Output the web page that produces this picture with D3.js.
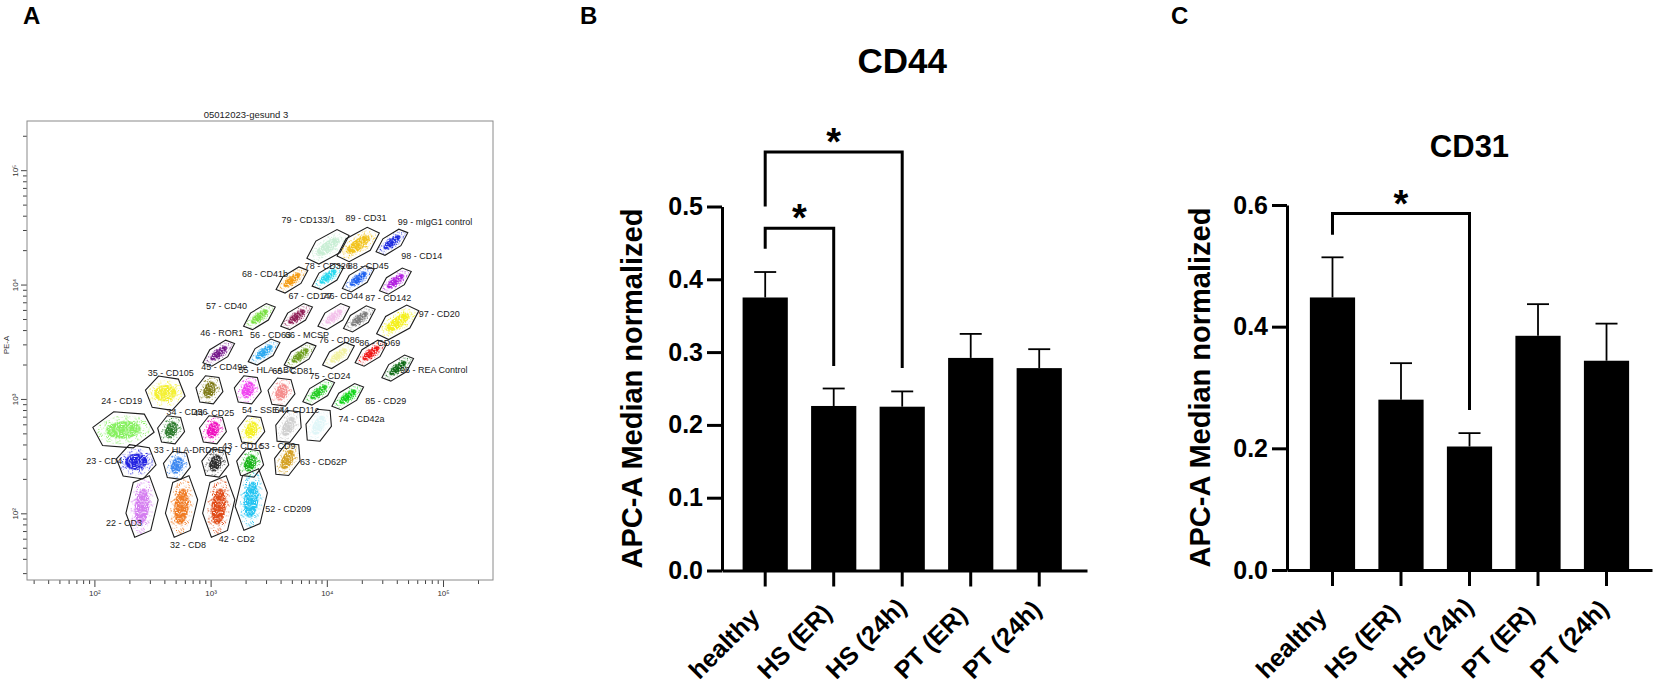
<!DOCTYPE html>
<html>
<head>
<meta charset="utf-8">
<script src="https://cdn.jsdelivr.net/npm/d3@7"></script>
<style>
  body { margin: 0; background: #fff; }
  text { font-family: "Liberation Sans", Arial, sans-serif; }
</style>
</head>
<body>
<svg id="fig" width="1654" height="690"></svg>
<script>
// ---------- panel A : gated bead populations (log10 positions) ----------
const gateNames = ['79 - CD133/1','89 - CD31','99 - mIgG1 control','98 - CD14','68 - CD41b','78 - CD326','88 - CD45',
  '67 - CD146','77 - CD44','87 - CD142','97 - CD20','57 - CD40','46 - ROR1','56 - CD63','66 - MCSP','76 - CD86',
  '86 - CD69','96 - REA Control','35 - CD105','45 - CD49e','55 - HLA-ABC','65 - CD81','75 - CD24','85 - CD29',
  '24 - CD19','34 - CD56','44 - CD25','54 - SSEA4','64 - CD11c','74 - CD42a','23 - CD4','33 - HLA-DRDPDQ',
  '43 - CD1c','53 - CD9','63 - CD62P','22 - CD3','32 - CD8','42 - CD2','52 - CD209'];
const gateLogX = [4.01,4.27,4.56,4.59,3.70,4.01,4.27,3.74,4.06,4.28,4.61,3.42,3.07,3.46,3.77,4.10,4.38,4.61,
  2.61,2.99,3.32,3.61,3.93,4.18,2.25,2.66,3.02,3.35,3.67,3.93,2.36,2.71,3.04,3.34,3.66,2.41,2.75,3.07,3.35];
const gateLogY = [4.33,4.35,4.37,4.03,4.04,4.07,4.05,3.72,3.72,3.70,3.67,3.72,3.40,3.41,3.38,3.38,3.40,3.27,
  3.05,3.08,3.08,3.06,3.06,3.02,2.73,2.73,2.73,2.73,2.76,2.77,2.45,2.42,2.44,2.44,2.47,2.06,2.06,2.06,2.12];
const labelLogX = [3.61,4.16,4.61,4.64,3.27,3.81,4.18,3.67,3.96,4.33,4.79,2.96,2.91,3.34,3.64,3.93,4.28,4.63,
  2.46,2.92,3.24,3.53,3.85,4.33,2.06,2.62,2.85,3.27,3.55,4.10,1.93,2.51,3.10,3.42,3.77,2.10,2.65,3.07,3.47];
const labelLogY = [4.54,4.56,4.52,4.22,4.07,4.14,4.14,3.87,3.87,3.86,3.72,3.79,3.55,3.53,3.53,3.49,3.46,3.23,
  3.20,3.25,3.23,3.22,3.17,2.96,2.96,2.86,2.85,2.88,2.88,2.80,2.43,2.53,2.56,2.56,2.42,1.89,1.70,1.75,2.01];
const gateColors = ['#c8eed4','#f2c31c','#1f2be0','#b11fe0','#f59a10','#22d8ee','#1a5ff0','#8f1f55','#f3c0ea',
  '#7a7a7a','#f4f01a','#78e040','#74198a','#2aa8f0','#6c9e1a','#f2f2a0','#f01414','#0e6a14','#f4f030','#7e7a18',
  '#f040f0','#f48a8a','#22cc22','#10d418','#86f060','#2a7a2a','#f010c0','#f4f020','#cfcfcf','#e0f6f8','#2424e0',
  '#3a86f0','#2c2c2c','#14b414','#d4a020','#d47cf0','#f07a24','#e04a14','#22c4f2'];
const gateShapes = ['diagL','diagL','diag','diag','diag','diag','diag','diag','diag','diag','diagL','diag','diag',
  'diag','diag','diag','diag','diag','box','round','round','round','diag','diag','wide','round','round','round',
  'lean','lean','box','round','round','round','lean','tall','tall','tall','tall'];

// ---------- panels B / C : bar charts ----------
const groups = ['healthy', 'HS (ER)', 'HS (24h)', 'PT (ER)', 'PT (24h)'];
const cd44Mean = [0.375, 0.226, 0.225, 0.292, 0.278];
const cd44Err  = [0.035, 0.024, 0.021, 0.033, 0.026];
const cd31Mean = [0.448, 0.280, 0.203, 0.385, 0.344];
const cd31Err  = [0.066, 0.060, 0.022, 0.052, 0.061];
const cd44Ticks = [0, 0.1, 0.2, 0.3, 0.4, 0.5];
const cd31Ticks = [0, 0.2, 0.4, 0.6];
const cd44Sig = [
  {from: 'healthy', to: 'HS (ER)',  top: 0.470, leftEnd: 0.442, rightEnd: 0.281, label: '*'},
  {from: 'healthy', to: 'HS (24h)', top: 0.575, leftEnd: 0.500, rightEnd: 0.278, label: '*'}
];
const cd31Sig = [
  {from: 'healthy', to: 'HS (24h)', top: 0.586, leftEnd: 0.551, rightEnd: 0.263, label: '*'}
];

const svg = d3.select('#fig');
svg.append('rect').attr('width', 1654).attr('height', 690).attr('fill', '#fff');

// speckle filters so the gate clouds look like dot clouds
const defs = svg.append('defs');
function speckle(id, cut){
  const f = defs.append('filter').attr('id', id).attr('x', '-10%').attr('y', '-10%').attr('width', '120%').attr('height', '120%');
  f.append('feTurbulence').attr('type', 'fractalNoise').attr('baseFrequency', 0.9).attr('numOctaves', 1).attr('seed', 4).attr('result', 'n');
  f.append('feColorMatrix').attr('in', 'n').attr('type', 'matrix')
    .attr('values', `0 0 0 0 0  0 0 0 0 0  0 0 0 0 0  9 0 0 0 ${cut}`).attr('result', 'm');
  f.append('feComposite').attr('in', 'SourceGraphic').attr('in2', 'm').attr('operator', 'in');
}
speckle('sparse', -5.0);
speckle('dense', -3.2);

// panel letters
[['A', 23], ['B', 580], ['C', 1171]].forEach(([t, x]) => {
  svg.append('text').attr('x', x).attr('y', 24).text(t)
    .style('font-size', '24px').style('font-weight', 'bold');
});

//----- A : flow plot
function drawFlow(){
  const g = svg.append('g');
  const x = d3.scaleLog().domain([10 ** 1.42, 10 ** 5.43]).range([27, 493]);
  const y = d3.scaleLog().domain([10 ** 1.417, 10 ** 5.43]).range([580, 121]);
  const sup = {2: '²', 3: '³', 4: '⁴', 5: '⁵'};
  const fmt = d => '10' + sup[Math.round(Math.log10(d))];
  const majors = [100, 1000, 10000, 100000];

  g.append('text').attr('x', 246).attr('y', 118).attr('text-anchor', 'middle')
    .style('font-size', '9.5px').style('fill', '#222').text('05012023-gesund 3');

  // minor + major ticks
  const xMinor = g.append('g').attr('transform', 'translate(0,580)')
    .call(d3.axisBottom(x).tickValues(x.ticks().filter(d => !majors.includes(d))).tickSize(4).tickFormat(''));
  const xMajor = g.append('g').attr('transform', 'translate(0,580)')
    .call(d3.axisBottom(x).tickValues(majors).tickSize(7).tickPadding(3).tickFormat(fmt));
  const yMinor = g.append('g').attr('transform', 'translate(27,0)')
    .call(d3.axisLeft(y).tickValues(y.ticks().filter(d => !majors.includes(d))).tickSize(4).tickFormat(''));
  const yMajor = g.append('g').attr('transform', 'translate(27,0)')
    .call(d3.axisLeft(y).tickValues(majors).tickSize(6).tickFormat(fmt));
  [xMinor, xMajor, yMinor, yMajor].forEach(a => {
    a.select('.domain').remove();
    a.selectAll('line').attr('stroke', '#444');
    a.selectAll('text').style('font-size', '8px').style('fill', '#333');
  });
  yMajor.selectAll('text').attr('x', 0).attr('dy', 0)
    .attr('transform', 'translate(-9,0) rotate(-90)').attr('text-anchor', 'middle');

  g.append('rect').attr('x', 27).attr('y', 121).attr('width', 466).attr('height', 459)
    .attr('fill', 'none').attr('stroke', '#8a8a8a').attr('stroke-width', 1);
  g.append('text').attr('transform', 'translate(9,345) rotate(-90)').attr('text-anchor', 'middle')
    .style('font-size', '8px').style('fill', '#333').text('PE-A');

  const shapeDims = {
    diag:  {a: 17, b: 7,  rot: -38},
    diagL: {a: 22, b: 10, rot: -36},
    round: {a: 14, b: 11, rot: -65},
    lean:  {a: 17, b: 10, rot: -62},
    box:   {a: 18, b: 15, rot: -5},
    wide:  {a: 28, b: 16, rot: -5},
    tall:  {a: 29, b: 13, rot: -84}
  };
  const hexLine = d3.line().curve(d3.curveLinearClosed);

  gateNames.forEach((name, i) => {
    const s = shapeDims[gateShapes[i]];
    const cx = x(10 ** gateLogX[i]), cy = y(10 ** gateLogY[i]);
    const gg = g.append('g').attr('transform', `translate(${cx},${cy}) rotate(${s.rot})`);
    gg.append('ellipse').attr('rx', s.a * 0.95).attr('ry', s.b * 0.88)
      .attr('fill', gateColors[i]).attr('filter', 'url(#sparse)');
    gg.append('ellipse').attr('rx', s.a * 0.62).attr('ry', s.b * 0.55)
      .attr('fill', gateColors[i]).attr('filter', 'url(#dense)');
    const pts = d3.range(6).map(k => {
      const t = (k * 60 + 15) * Math.PI / 180;
      return [1.12 * s.a * Math.cos(t), 1.22 * s.b * Math.sin(t)];
    });
    gg.append('path').attr('d', hexLine(pts)).attr('fill', 'none')
      .attr('stroke', '#1e1e1e').attr('stroke-width', 1.1);
    g.append('text').attr('x', x(10 ** labelLogX[i])).attr('y', y(10 ** labelLogY[i]))
      .style('font-size', '9px').style('fill', '#1a1a1a').text(name);
  });
}

//----- B / C : bar charts
function drawBars(cfg){
  const g = svg.append('g');
  const x = d3.scaleBand().domain(groups).range([cfg.left, cfg.right])
    .paddingInner(0.34).paddingOuter(0.334).align(cfg.align);
  const y = d3.scaleLinear().domain([0, cfg.max]).range([cfg.base, cfg.top]);
  const xc = d => x(d) + x.bandwidth() / 2;

  g.append('text').attr('x', (xc(groups[0]) + xc(groups[4])) / 2).attr('y', cfg.titleY)
    .attr('text-anchor', 'middle').style('font-size', cfg.titleSize + 'px').style('font-weight', 'bold')
    .text(cfg.title);

  // bars
  g.selectAll('.bar').data(cfg.mean).enter().append('rect')
    .attr('x', (d, i) => x(groups[i])).attr('y', d => y(d))
    .attr('width', x.bandwidth()).attr('height', d => y(0) - y(d)).attr('fill', '#000');

  // error bars (upper only)
  const eb = g.selectAll('.err').data(cfg.mean).enter().append('g');
  eb.append('line').attr('x1', (d, i) => xc(groups[i])).attr('x2', (d, i) => xc(groups[i]))
    .attr('y1', d => y(d)).attr('y2', (d, i) => y(d + cfg.err[i]))
    .attr('stroke', '#000').attr('stroke-width', 1.8);
  eb.append('line').attr('x1', (d, i) => xc(groups[i]) - 11).attr('x2', (d, i) => xc(groups[i]) + 11)
    .attr('y1', (d, i) => y(d + cfg.err[i])).attr('y2', (d, i) => y(d + cfg.err[i]))
    .attr('stroke', '#000').attr('stroke-width', 1.8);

  // axes
  const yAxis = g.append('g').attr('transform', `translate(${cfg.left},0)`)
    .call(d3.axisLeft(y).tickValues(cfg.ticks).tickFormat(d3.format('.1f')).tickSize(15).tickPadding(4).tickSizeOuter(0));
  const xAxis = g.append('g').attr('transform', `translate(0,${cfg.base})`)
    .call(d3.axisBottom(x).tickSize(16).tickSizeOuter(0));
  [yAxis, xAxis].forEach(a => {
    a.selectAll('path, line').attr('stroke', '#000').attr('stroke-width', 3);
    a.selectAll('text').style('font-weight', 'bold').style('fill', '#000');
  });
  yAxis.selectAll('text').style('font-size', '25px');
  // slanted group names, anchored at their start
  xAxis.selectAll('text').style('font-size', '25px')
    .attr('x', 0).attr('y', 0).attr('dy', 0)
    .attr('transform', 'translate(-66,110) rotate(-45)').style('text-anchor', 'start');

  g.append('text').attr('transform', `translate(${cfg.labelX},${(cfg.base + cfg.top) / 2}) rotate(-90)`)
    .attr('text-anchor', 'middle').style('font-size', '29px').style('font-weight', 'bold')
    .text('APC-A Median normalized');

  // significance brackets
  cfg.sig.forEach(s => {
    const x1 = xc(s.from), x2 = xc(s.to);
    g.append('path')
      .attr('d', `M${x1},${y(s.leftEnd)}V${y(s.top)}H${x2}V${y(s.rightEnd)}`)
      .attr('fill', 'none').attr('stroke', '#000').attr('stroke-width', 3);
    g.append('text').attr('x', (x1 + x2) / 2).attr('y', y(s.top) + 3).attr('text-anchor', 'middle')
      .style('font-size', '38px').style('font-weight', 'bold').text(s.label);
  });
}

drawFlow();
drawBars({left: 722, right: 1087, align: 0.45, base: 570.5, top: 206.5, max: 0.5, ticks: cd44Ticks,
  mean: cd44Mean, err: cd44Err, sig: cd44Sig, title: 'CD44', titleY: 73, titleSize: 35, labelX: 642});
drawBars({left: 1287, right: 1652, align: 0.5, base: 570, top: 205, max: 0.6, ticks: cd31Ticks,
  mean: cd31Mean, err: cd31Err, sig: cd31Sig, title: 'CD31', titleY: 157, titleSize: 31, labelX: 1210});
</script>
</body>
</html>
